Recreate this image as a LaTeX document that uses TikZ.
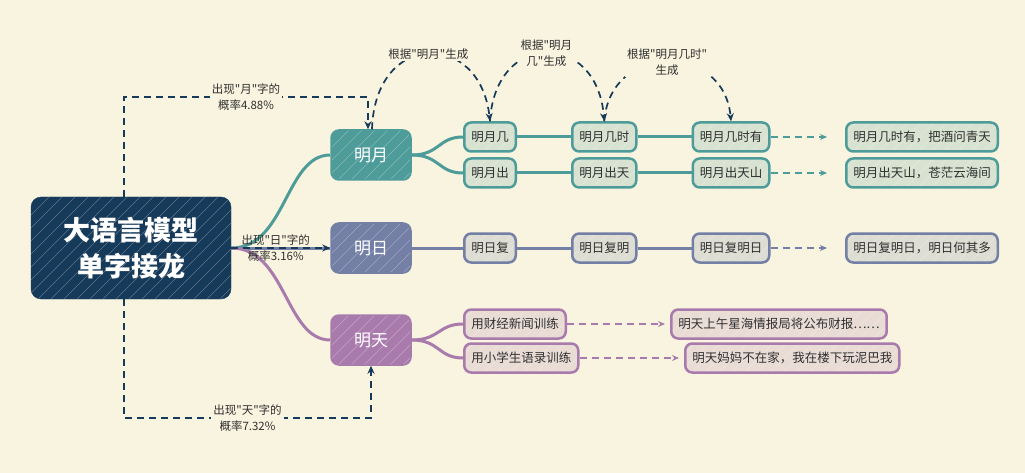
\documentclass[tikz,border=0pt]{standalone}
\usepackage{fontspec}
\setmainfont{Noto Sans CJK SC}[Ligatures=TeXOff]
\usepackage{tikz}
\usetikzlibrary{arrows.meta,positioning,calc}
\definecolor{paper}{RGB}{249,244,223}
\definecolor{navy}{RGB}{22,58,89}
\definecolor{teal}{RGB}{78,156,154}
\definecolor{slate}{RGB}{115,127,164}
\definecolor{plum}{RGB}{169,123,173}
\definecolor{ink}{RGB}{47,47,47}

\begin{document}
\begin{tikzpicture}[
    x=1pt, y=-1pt,
    hatch/.style={path picture={\foreach \k in {0,...,24} \draw[white, opacity=0.3, line width=0.6pt] ($(path picture bounding box.south west)+(\k*13pt-110pt,0pt)$) -- ++(120pt,120pt);}},
    root/.style={rectangle, draw=navy, fill=navy, rounded corners=10pt, minimum width=200pt, minimum height=102pt, text=white, align=center, font=\fontsize{27}{36}\selectfont\bfseries, hatch},
    topic/.style={rectangle, draw=#1, fill=#1, rounded corners=8pt, minimum width=80pt, minimum height=50pt, line width=1.5pt, text=white, font=\fontsize{17}{20}\selectfont, hatch},
    leaf/.style={rectangle, draw=#1, fill=#1!20!paper, rounded corners=7pt, minimum height=29pt, inner xsep=7pt, line width=2.5pt, text=ink, font=\fontsize{12.5}{15}\selectfont, hatch},
    branch/.style={draw=#1, line width=3pt},
    flow/.style={draw=#1, line width=1.6pt, dash pattern=on 7pt off 5pt, -{Stealth[length=7pt,width=6pt]}},
    rel/.style={draw=navy, line width=1.7pt, dash pattern=on 7pt off 5pt, -{Stealth[length=8pt,width=7pt]}},
    note/.style={fill=paper, text=ink, align=center, inner sep=2pt, font=\fontsize{11.5}{16}\selectfont}
]
\fill[paper] (0,0) rectangle (1025,473);
\useasboundingbox (0,0) rectangle (1025,473);

\node[root] (llm) at (131,248) {大语言模型\\单字接龙};
\node[topic=teal] (ming) at (371,155) {明月};
\node[topic=slate] (ri) at (371,248) {明日};
\node[topic=plum] (tian) at (371,340) {明天};

\node[leaf=teal, anchor=west] (mj) at (463,137) {明月几};
\node[leaf=teal, right=54pt of mj] (mjs) {明月几时};
\node[leaf=teal, right=54pt of mjs] (mjsy) {明月几时有};
\node[leaf=teal, anchor=west] (mjpoem) at (845,137) {明月几时有，把酒问青天};

\node[leaf=teal, anchor=west] (mc) at (463,173) {明月出};
\node[leaf=teal, right=54pt of mc] (mct) {明月出天};
\node[leaf=teal, right=54pt of mct] (mcts) {明月出天山};
\node[leaf=teal, anchor=west] (mcpoem) at (845,173) {明月出天山，苍茫云海间};

\node[leaf=slate, anchor=west] (rf) at (463,248) {明日复};
\node[leaf=slate, right=54pt of rf] (rfm) {明日复明};
\node[leaf=slate, right=54pt of rfm] (rfmr) {明日复明日};
\node[leaf=slate, anchor=west] (rfpoem) at (845,248) {明日复明日，明日何其多};

\node[leaf=plum, anchor=west] (tnews) at (463,324) {用财经新闻训练};
\node[leaf=plum, anchor=west] (tnewsout) at (670,324) {明天上午星海情报局将公布财报……};
\node[leaf=plum, anchor=west] (tkids) at (463,358) {用小学生语录训练};
\node[leaf=plum, anchor=west] (tkidsout) at (684,358) {明天妈妈不在家，我在楼下玩泥巴我};

\draw[branch=teal] (llm.east) .. controls +(55,0) and +(-45,0) .. (ming.west);
\draw[branch=slate] (llm.east) -- (ri.west);
\draw[branch=plum] (llm.east) .. controls +(55,0) and +(-45,0) .. (tian.west);

\draw[branch=teal] (ming.east) .. controls +(28,0) and +(-25,0) .. (mj.west);
\draw[branch=teal] (ming.east) .. controls +(28,0) and +(-25,0) .. (mc.west);
\draw[branch=teal] (mj) -- (mjs) -- (mjsy);
\draw[branch=teal] (mc) -- (mct) -- (mcts);
\draw[branch=slate] (ri) -- (rf) -- (rfm) -- (rfmr);
\draw[branch=plum] (tian.east) .. controls +(28,0) and +(-25,0) .. (tnews.west);
\draw[branch=plum] (tian.east) .. controls +(28,0) and +(-25,0) .. (tkids.west);

\draw[flow=teal, shorten >=18pt] (mjsy) -- (mjpoem);
\draw[flow=teal, shorten >=18pt] (mcts) -- (mcpoem);
\draw[flow=slate, shorten >=18pt] (rfmr) -- (rfpoem);
\draw[flow=plum, shorten >=5pt] (tnews) -- (tnewsout);
\draw[flow=plum, shorten >=5pt] (tkids) -- (tkidsout);

\coordinate (upturn) at (368,97);
\coordinate (downturn) at (371,418);
\draw[rel] ([xshift=-7pt]llm.north) |- node[note, pos=0.75] {出现"月"字的\\概率4.88\%} (upturn) -- ([xshift=-3pt]ming.north);
\draw[rel] ([xshift=-7pt]llm.south) |- node[note, pos=0.75] {出现"天"字的\\概率7.32\%} (downturn) -- (tian.south);
\draw[rel] (llm.east) -- (ri.west) node[note, fill=none, midway, xshift=-5pt] {出现"日"字的\\概率3.16\%};

\draw[rel] ([xshift=1pt]ming.north) .. controls (375,30) and (480,30) .. (mj.north) node[note, pos=0.5] {根据"明月"生成};
\draw[rel] (mj.north) .. controls (495,30) and (597,30) .. (mjs.north) node[note, pos=0.5] {根据"明月\\几"生成};
\draw[rel] (mjs.north) .. controls (610,42) and (724,42) .. (mjsy.north) node[note, pos=0.5] {根据"明月几时"\\生成};
\end{tikzpicture}
\end{document}
